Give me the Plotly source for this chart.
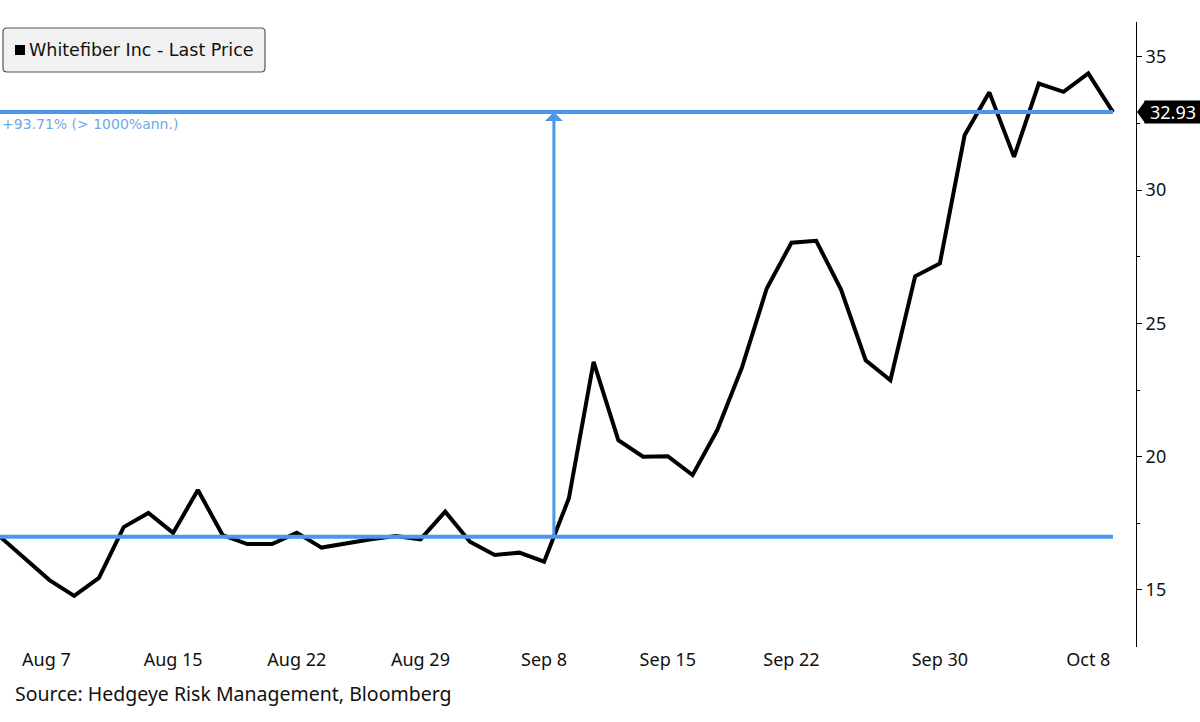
import plotly.graph_objects as go

# trading days shown on the chart (weekends and Labor Day skipped)
dates = [
    "2025-08-06", "2025-08-07", "2025-08-08", "2025-08-11", "2025-08-12", "2025-08-13",
    "2025-08-14", "2025-08-15", "2025-08-18", "2025-08-19", "2025-08-20", "2025-08-21",
    "2025-08-22", "2025-08-25", "2025-08-26", "2025-08-27", "2025-08-28", "2025-08-29",
    "2025-09-02", "2025-09-03", "2025-09-04", "2025-09-05", "2025-09-08", "2025-09-09",
    "2025-09-10", "2025-09-11", "2025-09-12", "2025-09-15", "2025-09-16", "2025-09-17",
    "2025-09-18", "2025-09-19", "2025-09-22", "2025-09-23", "2025-09-24", "2025-09-25",
    "2025-09-26", "2025-09-29", "2025-09-30", "2025-10-01", "2025-10-02", "2025-10-03",
    "2025-10-06", "2025-10-07", "2025-10-08", "2025-10-09",
]
last_price = [
    17.00, 16.20, 15.37, 14.78, 15.45, 17.36,
    17.89, 17.14, 18.75, 17.06, 16.72, 16.72,
    17.15, 16.59, 16.75, 16.90, 17.02, 16.90,
    17.94, 16.81, 16.31, 16.40, 16.06, 18.44,
    23.56, 20.62, 20.00, 20.02, 19.31, 21.00,
    23.35, 26.31, 28.03, 28.10, 26.28, 23.62,
    22.87, 26.77, 27.25, 32.06, 33.67, 31.25,
    34.00, 33.69, 34.38, 32.93,
]

tick_dates = ["2025-08-15", "2025-08-22", "2025-08-29", "2025-09-08",
              "2025-09-15", "2025-09-22", "2025-09-30", "2025-10-08"]
tick_labels = ["Aug 15", "Aug 22", "Aug 29", "Sep 8", "Sep 15", "Sep 22", "Sep 30", "Oct 8"]
first_label_date = "2025-08-07"
first_label = "Aug 7"

# Bloomberg measure tool: from 17.00 (crossed after Sep 8) up to the last price
measure_from_date = "2025-09-08"
measure_base = 17.00
measure_end = last_price[-1]
measure_text = "+93.71% (> 1000%ann.)"

series_name = "Whitefiber Inc - Last Price"
source_text = "Source: Hedgeye Risk Management, Bloomberg"

BLUE = "#4a98ec"
x = list(range(len(dates)))

# x position where the price line crosses the base value
i0 = dates.index(measure_from_date)
cross_x = i0 + (measure_base - last_price[i0]) / (last_price[i0 + 1] - last_price[i0])

fig = go.Figure()

fig.add_trace(go.Scatter(
    x=x, y=last_price, mode="lines",
    line=dict(color="black", width=4),
    name=series_name, showlegend=False, hoverinfo="skip",
))

# horizontal measure lines
for level in (measure_base, measure_end):
    fig.add_shape(type="line", xref="x", yref="y",
                  x0=x[0], x1=x[-1], y0=level, y1=level,
                  line=dict(color=BLUE, width=4))

# vertical arrow
fig.add_annotation(x=cross_x, y=measure_end, ax=cross_x, ay=measure_base,
                   xref="x", yref="y", axref="x", ayref="y",
                   text="", showarrow=True, arrowhead=1, arrowsize=1.0,
                   arrowwidth=3, arrowcolor=BLUE, standoff=0)

fig.add_annotation(x=0, y=measure_end, xref="paper", yref="y",
                   xanchor="left", yanchor="top", yshift=-2, showarrow=False,
                   text=measure_text,
                   font=dict(family="DejaVu Sans", size=14, color="#6fa9e6"))

# last price tag on the axis
fig.add_shape(type="path", xref="paper", yref="y",
              xsizemode="pixel", ysizemode="pixel", xanchor=1, yanchor=measure_end,
              path="M 1,0 L 9,11 L 9,-11 Z",
              fillcolor="black", line=dict(color="black", width=0))
fig.add_annotation(x=1, y=measure_end, xref="paper", yref="y",
                   xanchor="left", xshift=8, showarrow=False,
                   text=f"{measure_end:.2f}", width=56, height=22,
                   bgcolor="black", borderpad=0,
                   font=dict(family="Noto Sans", size=18, color="white"))

# legend box
fig.add_shape(type="path", xref="paper", yref="paper",
              xsizemode="pixel", ysizemode="pixel", xanchor=0, yanchor=1,
              path="M 7,-6 L 261,-6 Q 265,-6 265,-10 L 265,-46 Q 265,-50 261,-50 "
                   "L 7,-50 Q 3,-50 3,-46 L 3,-10 Q 3,-6 7,-6 Z",
              fillcolor="#f1f1f1", line=dict(color="#555555", width=1.2))
fig.add_shape(type="rect", xref="paper", yref="paper",
              xsizemode="pixel", ysizemode="pixel", xanchor=0, yanchor=1,
              x0=15, x1=25, y0=-23, y1=-33,
              fillcolor="black", line=dict(width=0))
fig.add_annotation(x=0, y=1, xref="paper", yref="paper",
                   xanchor="left", yanchor="middle", xshift=27, yshift=-28,
                   showarrow=False, text=series_name,
                   font=dict(family="DejaVu Sans", size=17.5, color="#111111"))

# first date label sits shifted right of its point
fig.add_annotation(x=dates.index(first_label_date), y=0, xref="x", yref="paper",
                   yanchor="top", xshift=22, yshift=2, showarrow=False,
                   text=first_label,
                   font=dict(family="Noto Sans", size=18, color="#111111"))

fig.add_annotation(x=0, y=0, xref="paper", yref="paper",
                   xanchor="left", yanchor="middle", xshift=13, yshift=-46,
                   showarrow=False, text=source_text,
                   font=dict(family="Noto Sans", size=19.5, color="#111111"))

fig.update_layout(
    width=1200, height=722,
    margin=dict(l=0, r=64, t=22, b=75),
    plot_bgcolor="white", paper_bgcolor="white",
    showlegend=False,
    xaxis=dict(
        range=[0, 45.93], showgrid=False, zeroline=False, showline=False,
        tickvals=[dates.index(d) for d in tick_dates], ticktext=tick_labels,
        tickfont=dict(family="Noto Sans", size=18, color="#111111"),
    ),
    yaxis=dict(
        side="right", range=[12.86, 36.31], showgrid=False, zeroline=False,
        showline=True, linecolor="black", linewidth=1,
        ticks="outside", ticklen=5, tickcolor="black", dtick=5, tick0=0,
        minor=dict(dtick=2.5, ticks="outside", ticklen=3, tickcolor="black"),
        tickfont=dict(family="Noto Sans", size=18, color="#111111"),
    ),
)

# the page body has a default 8px margin; remove it so the figure fills the window
fig.write_html("out.html", config={"displayModeBar": False},
               post_script="document.body.style.margin='0';")
